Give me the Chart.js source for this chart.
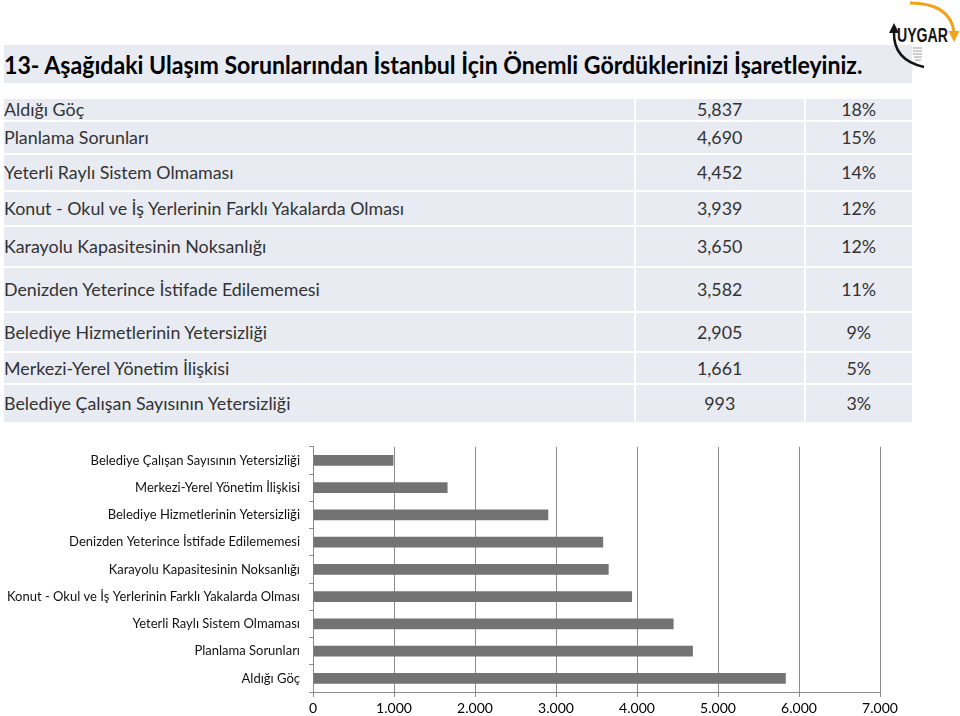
<!DOCTYPE html>
<html lang="tr">
<head>
<meta charset="UTF-8">
<title>Ulaşım Sorunları</title>
<style>
    body {
        margin: 0;
        background: #fff;
        width: 960px;
        height: 716px;
        position: relative;
        overflow: hidden;
        font-family: Lato, "Liberation Sans", sans-serif;
    }

    .title-bar {
        position: absolute;
        left: 4px;
        top: 45px;
        width: 908px;
        height: 38px;
        background: #e8ebf2;
    }

    .title-text {
        position: absolute;
        left: 4px;
        top: 50px;
        font-size: 24px;
        font-weight: bold;
        color: #000;
        white-space: nowrap;
        transform-origin: left center;
    }

    .row {
        position: absolute;
        left: 4px;
        width: 908px;
        display: flex;
    }

    .cell {
        background: #e8ebf2;
        display: flex;
        align-items: center;
        font-size: 17px;
        color: #333;
        white-space: nowrap;
    }

    .cell span {
        display: inline-block;
    }

    .c1 { width: 630px; margin-right: 2px; }
    .c2 { width: 168px; margin-right: 2px; justify-content: center; }
    .c3 { width: 106px; justify-content: center; }

    #barChart {
        position: absolute;
        left: 0;
        top: 430px;
    }

    .logo {
        position: absolute;
        left: 880px;
        top: 0;
        z-index: 2;
    }
</style>
</head>
<body>

<div class="title-bar"></div>
<div class="title-text" id="title">13- Aşağıdaki Ulaşım Sorunlarından İstanbul İçin Önemli Gördüklerinizi İşaretleyiniz.</div>

<!-- logo -->
<svg class="logo" width="80" height="72" viewBox="0 0 80 72">
    <path d="M30 3 Q 70 3 74 32" fill="none" stroke="#f3a21c" stroke-width="3"/>
    <path d="M68.5 31 L79.5 31 L74 42 Z" fill="#f3a21c"/>
    <text x="17" y="42" font-family="'Liberation Sans', Arial, sans-serif" font-weight="bold" font-size="20" fill="#151515" textLength="51" lengthAdjust="spacingAndGlyphs">UYGAR</text>
    <path d="M14 32 Q 13 60 44 67" fill="none" stroke="#151515" stroke-width="2.5"/>
    <path d="M9 33 L19 33 L14 23 Z" fill="#151515"/>
    <g stroke="#9a9a9a" stroke-width="1">
        <line x1="33" y1="48" x2="42" y2="48"/>
        <line x1="33" y1="51" x2="42" y2="51"/>
        <line x1="33" y1="54" x2="42" y2="54"/>
        <line x1="34" y1="57" x2="42" y2="57"/>
        <line x1="35" y1="60" x2="41" y2="60"/>
    </g>
</svg>

<div id="table"></div>

<canvas id="barChart" width="960" height="286"></canvas>

<script src="https://cdn.jsdelivr.net/npm/chart.js"></script>
<script>
    // categories, in table order (largest first)
    const categories = [
        "Aldığı Göç",
        "Planlama Sorunları",
        "Yeterli Raylı Sistem Olmaması",
        "Konut - Okul ve İş Yerlerinin Farklı Yakalarda Olması",
        "Karayolu Kapasitesinin Noksanlığı",
        "Denizden Yeterince İstifade Edilememesi",
        "Belediye Hizmetlerinin Yetersizliği",
        "Merkezi-Yerel Yönetim İlişkisi",
        "Belediye Çalışan Sayısının Yetersizliği"
    ];
    const counts = [5837, 4690, 4452, 3939, 3650, 3582, 2905, 1661, 993];
    const percents = [18, 15, 14, 12, 12, 11, 9, 5, 3];
    const xTicks = [0, 1000, 2000, 3000, 4000, 5000, 6000, 7000];

    // table row heights (layout only)
    const rowTop = 99;
    const rowHeights = [23, 33, 37, 35, 41, 45, 40, 32, 39];

    function fmtComma(n) {
        return String(n).replace(/\B(?=(\d{3})+(?!\d))/g, ",");
    }
    function fmtDot(n) {
        return String(n).replace(/\B(?=(\d{3})+(?!\d))/g, ".");
    }

    // fit title to its width in the picture
    const title = document.getElementById("title");
    title.style.transform = "scaleX(" + (858 / title.scrollWidth) + ")";

    // build the table
    const table = document.getElementById("table");
    let y = rowTop;
    const labelSpans = [];
    categories.forEach((cat, i) => {
        const row = document.createElement("div");
        row.className = "row";
        row.style.top = y + "px";
        row.style.height = (rowHeights[i] - 2) + "px";
        row.innerHTML =
            '<div class="cell c1"><span>' + cat + '</span></div>' +
            '<div class="cell c2"><span>' + fmtComma(counts[i]) + '</span></div>' +
            '<div class="cell c3"><span>' + percents[i] + '%</span></div>';
        table.appendChild(row);
        labelSpans.push(row.querySelectorAll("span"));
        y += rowHeights[i];
    });

    // squeeze table text a bit (the original font is narrow)
    const longest = labelSpans[3][0].getBoundingClientRect().width;
    const sx = 400 / longest;
    labelSpans.forEach(spans => {
        spans[0].style.transform = "scaleX(" + sx + ")";
        spans[0].style.transformOrigin = "left center";
        spans[1].style.transform = "scaleX(" + sx + ")";
        spans[2].style.transform = "scaleX(" + sx + ")";
    });

    // bar chart, smallest on top
    const chartLabels = categories.slice().reverse();
    const chartValues = counts.slice().reverse();
    const axisGray = "#8c8c8c";

    new Chart(document.getElementById("barChart").getContext("2d"), {
        type: "bar",
        data: {
            labels: chartLabels,
            datasets: [{
                data: chartValues,
                backgroundColor: "#737373",
                barPercentage: 0.4,
                categoryPercentage: 1
            }]
        },
        options: {
            indexAxis: "y",
            responsive: false,
            animation: false,
            devicePixelRatio: 1,
            layout: { padding: { top: 13, right: 80, left: 0, bottom: 0 } },
            plugins: { legend: { display: false }, tooltip: { enabled: false } },
            scales: {
                x: {
                    min: xTicks[0],
                    max: xTicks[xTicks.length - 1],
                    afterBuildTicks: s => { s.ticks = xTicks.map(v => ({ value: v })); },
                    ticks: {
                        color: "#000",
                        font: { family: "Lato, sans-serif", size: 14 },
                        padding: 3,
                        callback: v => fmtDot(v)
                    },
                    grid: { color: axisGray, tickLength: 5 },
                    border: { color: axisGray },
                    afterFit: s => { s.height = 24; }
                },
                y: {
                    ticks: { color: "#111", font: { family: "Lato, sans-serif", size: 13 }, padding: 9 },
                    grid: { drawOnChartArea: false, tickLength: 4, color: axisGray, offset: true },
                    border: { color: axisGray },
                    afterFit: s => { s.width = 313; }
                }
            }
        }
    });
</script>
</body>
</html>
